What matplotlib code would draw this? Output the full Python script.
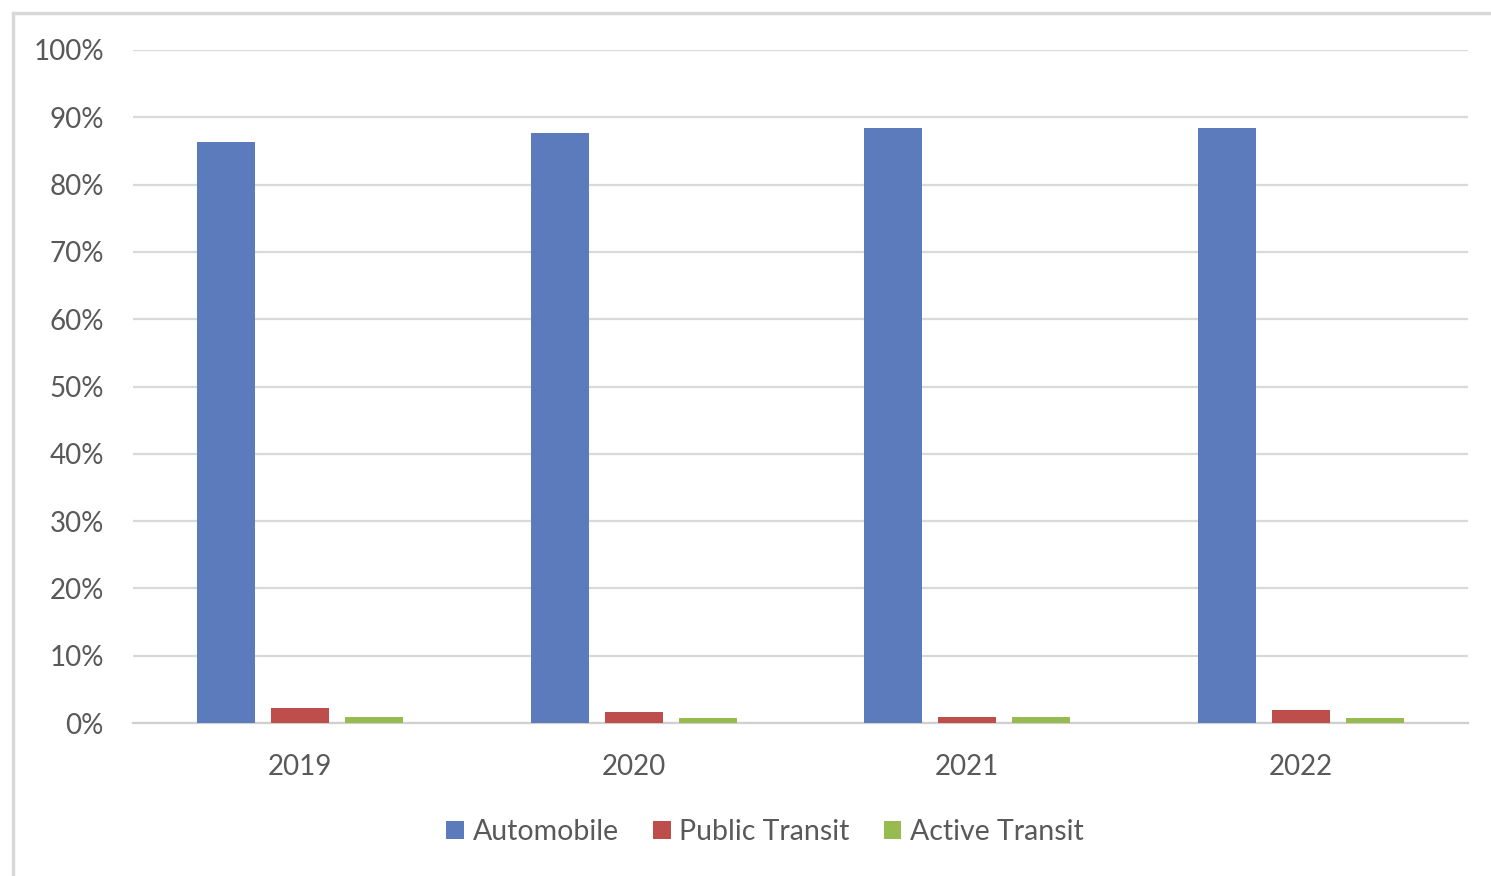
import matplotlib
matplotlib.use("Agg")
import matplotlib.pyplot as plt
import numpy as np
from matplotlib.patches import Rectangle

years = ["2019", "2020", "2021", "2022"]
automobile = [86.3, 87.7, 88.4, 88.4]
public_transit = [2.3, 1.6, 0.9, 2.0]
active_transit = [0.9, 0.8, 0.9, 0.8]
series_names = ["Automobile", "Public Transit", "Active Transit"]
colors = ["#5b7bbd", "#bd4e4c", "#98bb50"]
yticks = [0, 10, 20, 30, 40, 50, 60, 70, 80, 90, 100]

plt.rcParams['font.family'] = ['Lato', 'DejaVu Sans']
fig = plt.figure(figsize=(14.91, 8.76), dpi=100)
W, H = 1491, 876
ax = fig.add_axes([133 / W, 1 - 723 / H, (1468 - 133) / W, (723 - 50) / H])

x = np.arange(len(years))
bw = 0.174
off = 0.2217
for i, (vals, name, c) in enumerate(zip([automobile, public_transit, active_transit], series_names, colors)):
    ax.bar(x + (i - 1) * off, vals, width=bw, color=c, label=name, zorder=3)

ax.set_xlim(-0.5, len(years) - 0.5)
ax.set_ylim(0, 100)
ax.set_yticks(yticks)
ax.set_yticklabels([f"{t}%" for t in yticks])
ax.set_xticks(x)
ax.set_xticklabels(years)
ax.grid(axis='y', color='#d9d9d9', linewidth=1.6, zorder=0)
for s in ['top', 'right', 'left']:
    ax.spines[s].set_visible(False)
ax.spines['bottom'].set_color('#d0d0d0')
ax.spines['bottom'].set_linewidth(1.6)
ax.tick_params(axis='both', length=0, labelsize=20, colors='#595959')
ax.tick_params(axis='y', pad=21)
ax.tick_params(axis='x', pad=22)

leg = fig.legend(loc='center', bbox_to_anchor=(765 / W, 1 - 832 / H), ncol=3, frameon=False,
                 fontsize=20.5, handlelength=0.62, handleheight=0.62, handletextpad=0.3,
                 columnspacing=1.2)
for t in leg.get_texts():
    t.set_color('#595959')

# outer chart frame (right edge cropped off in the reference)
fig.patches.append(Rectangle((13 / W, -0.1), 1.2, 1 - 13 / H + 0.1,
                             transform=fig.transFigure, fill=False,
                             edgecolor='#d9d9d9', linewidth=2.5))

fig.savefig("out.png", dpi=100)
